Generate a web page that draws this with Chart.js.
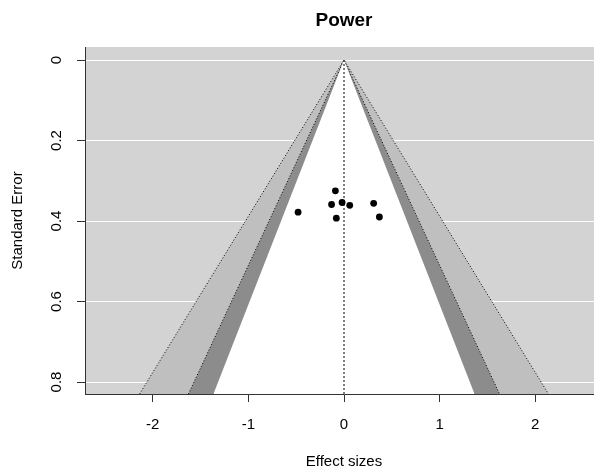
<!DOCTYPE html>
<html>
<head>
<meta charset="utf-8">
<script src="https://cdn.jsdelivr.net/npm/chart.js@4"></script>
<style>
  html, body { margin: 0; padding: 0; background: #fff; overflow: hidden; }
  canvas { display: block; }
</style>
</head>
<body>
<canvas id="funnel" width="607" height="474"></canvas>
<script>
// study estimates
var effectSizes = [-0.09, -0.13, -0.02, 0.06, -0.48, -0.08, 0.31, 0.37];
var standardErrors = [0.325, 0.359, 0.354, 0.361, 0.378, 0.393, 0.356, 0.390];

// contour levels (90 / 95 / 99 %) and their shades
var contourZ = [1.645, 1.96, 2.576];
var contourShades = ["#ffffff", "#8c8c8c", "#bfbfbf"];

var xTicks = [-2, -1, 0, 1, 2];
var yTicks = [0, 0.2, 0.4, 0.6, 0.8];

var xLimits = [-2.708, 2.708];
var yLimits = [-0.0323, 0.8298];

var fontFamily = "'Liberation Sans', Arial, sans-serif";

// grey panel behind the funnel
var panelBackground = {
  id: "panelBackground",
  beforeDraw: function (chart) {
    var area = chart.chartArea;
    var ctx = chart.ctx;
    ctx.save();
    ctx.fillStyle = "#d3d3d3";
    ctx.fillRect(area.left, area.top, area.right - area.left, area.bottom - area.top);
    ctx.restore();
  },
};

function funnel_region(z, shade, dotted, order) {
  var seMax = yLimits[1];
  return {
    type: "line",
    data: [
      { x: -z * seMax, y: seMax },
      { x: 0, y: 0 },
      { x: z * seMax, y: seMax },
    ],
    backgroundColor: shade,
    borderColor: dotted ? "#000" : shade,
    borderWidth: dotted ? 1 : 0,
    borderDash: [1, 2],
    fill: { value: seMax },
    pointRadius: 0,
    tension: 0,
    order: order,
  };
}

function load() {
  var points = effectSizes.map(function (es, i) {
    return { x: es, y: standardErrors[i] };
  });

  var datasets = [
    {
      type: "scatter",
      data: points,
      backgroundColor: "#000",
      borderColor: "#000",
      pointRadius: 3.4,
      pointBorderWidth: 0,
      order: 1,
    },
    {
      type: "line",
      data: [
        { x: 0, y: 0 },
        { x: 0, y: yLimits[1] },
      ],
      borderColor: "#000",
      borderWidth: 1,
      borderDash: [2, 2],
      pointRadius: 0,
      fill: false,
      order: 2,
    },
    funnel_region(contourZ[0], contourShades[0], false, 3),
    funnel_region(contourZ[1], contourShades[1], true, 4),
    funnel_region(contourZ[2], contourShades[2], true, 5),
  ];

  var config = {
    type: "scatter",
    data: { datasets: datasets },
    options: {
      responsive: false,
      animation: false,
      layout: { padding: 0 },
      plugins: {
        legend: { display: false },
        tooltip: { enabled: false },
        title: {
          display: true,
          fullSize: false,
          text: "Power",
          color: "#000",
          font: { family: fontFamily, size: 19, weight: "bold" },
          padding: { top: 9.6, bottom: 14.6 },
        },
      },
      scales: {
        x: {
          type: "linear",
          min: xLimits[0],
          max: xLimits[1],
          afterBuildTicks: function (scale) {
            scale.ticks = xTicks.map(function (v) { return { value: v }; });
          },
          afterFit: function (scale) {
            scale.height = 80;
          },
          grid: {
            drawOnChartArea: false,
            tickColor: "#333",
            tickLength: 8,
          },
          border: { display: true, color: "#333", width: 1 },
          ticks: {
            color: "#000",
            padding: 14,
            font: { family: fontFamily, size: 15 },
            maxRotation: 0,
            autoSkip: false,
            callback: function (v) { return String(v); },
          },
          title: {
            display: true,
            text: "Effect sizes",
            color: "#000",
            font: { family: fontFamily, size: 15 },
            padding: { top: 0, bottom: 3.5 },
          },
        },
        y: {
          type: "linear",
          reverse: true,
          min: yLimits[0],
          max: yLimits[1],
          afterBuildTicks: function (scale) {
            scale.ticks = yTicks.map(function (v) { return { value: v }; });
          },
          afterFit: function (scale) {
            scale.width = 85;
          },
          grid: {
            color: "#ffffff",
            lineWidth: 1,
            tickColor: "#333",
            tickLength: 8,
          },
          border: { display: true, color: "#333", width: 1 },
          ticks: {
            color: "#000",
            padding: 9.6,
            minRotation: 90,
            maxRotation: 90,
            crossAlign: "center",
            autoSkip: false,
            font: { family: fontFamily, size: 15 },
            callback: function (v) { return String(v); },
          },
          title: {
            display: true,
            text: "Standard Error",
            color: "#000",
            font: { family: fontFamily, size: 15 },
            padding: { top: 8.5, bottom: 0 },
          },
        },
      },
    },
    plugins: [panelBackground],
  };

  var canvas = document.getElementById("funnel");
  canvas.chart = new Chart(canvas.getContext("2d"), config);
}

load();
</script>
</body>
</html>
